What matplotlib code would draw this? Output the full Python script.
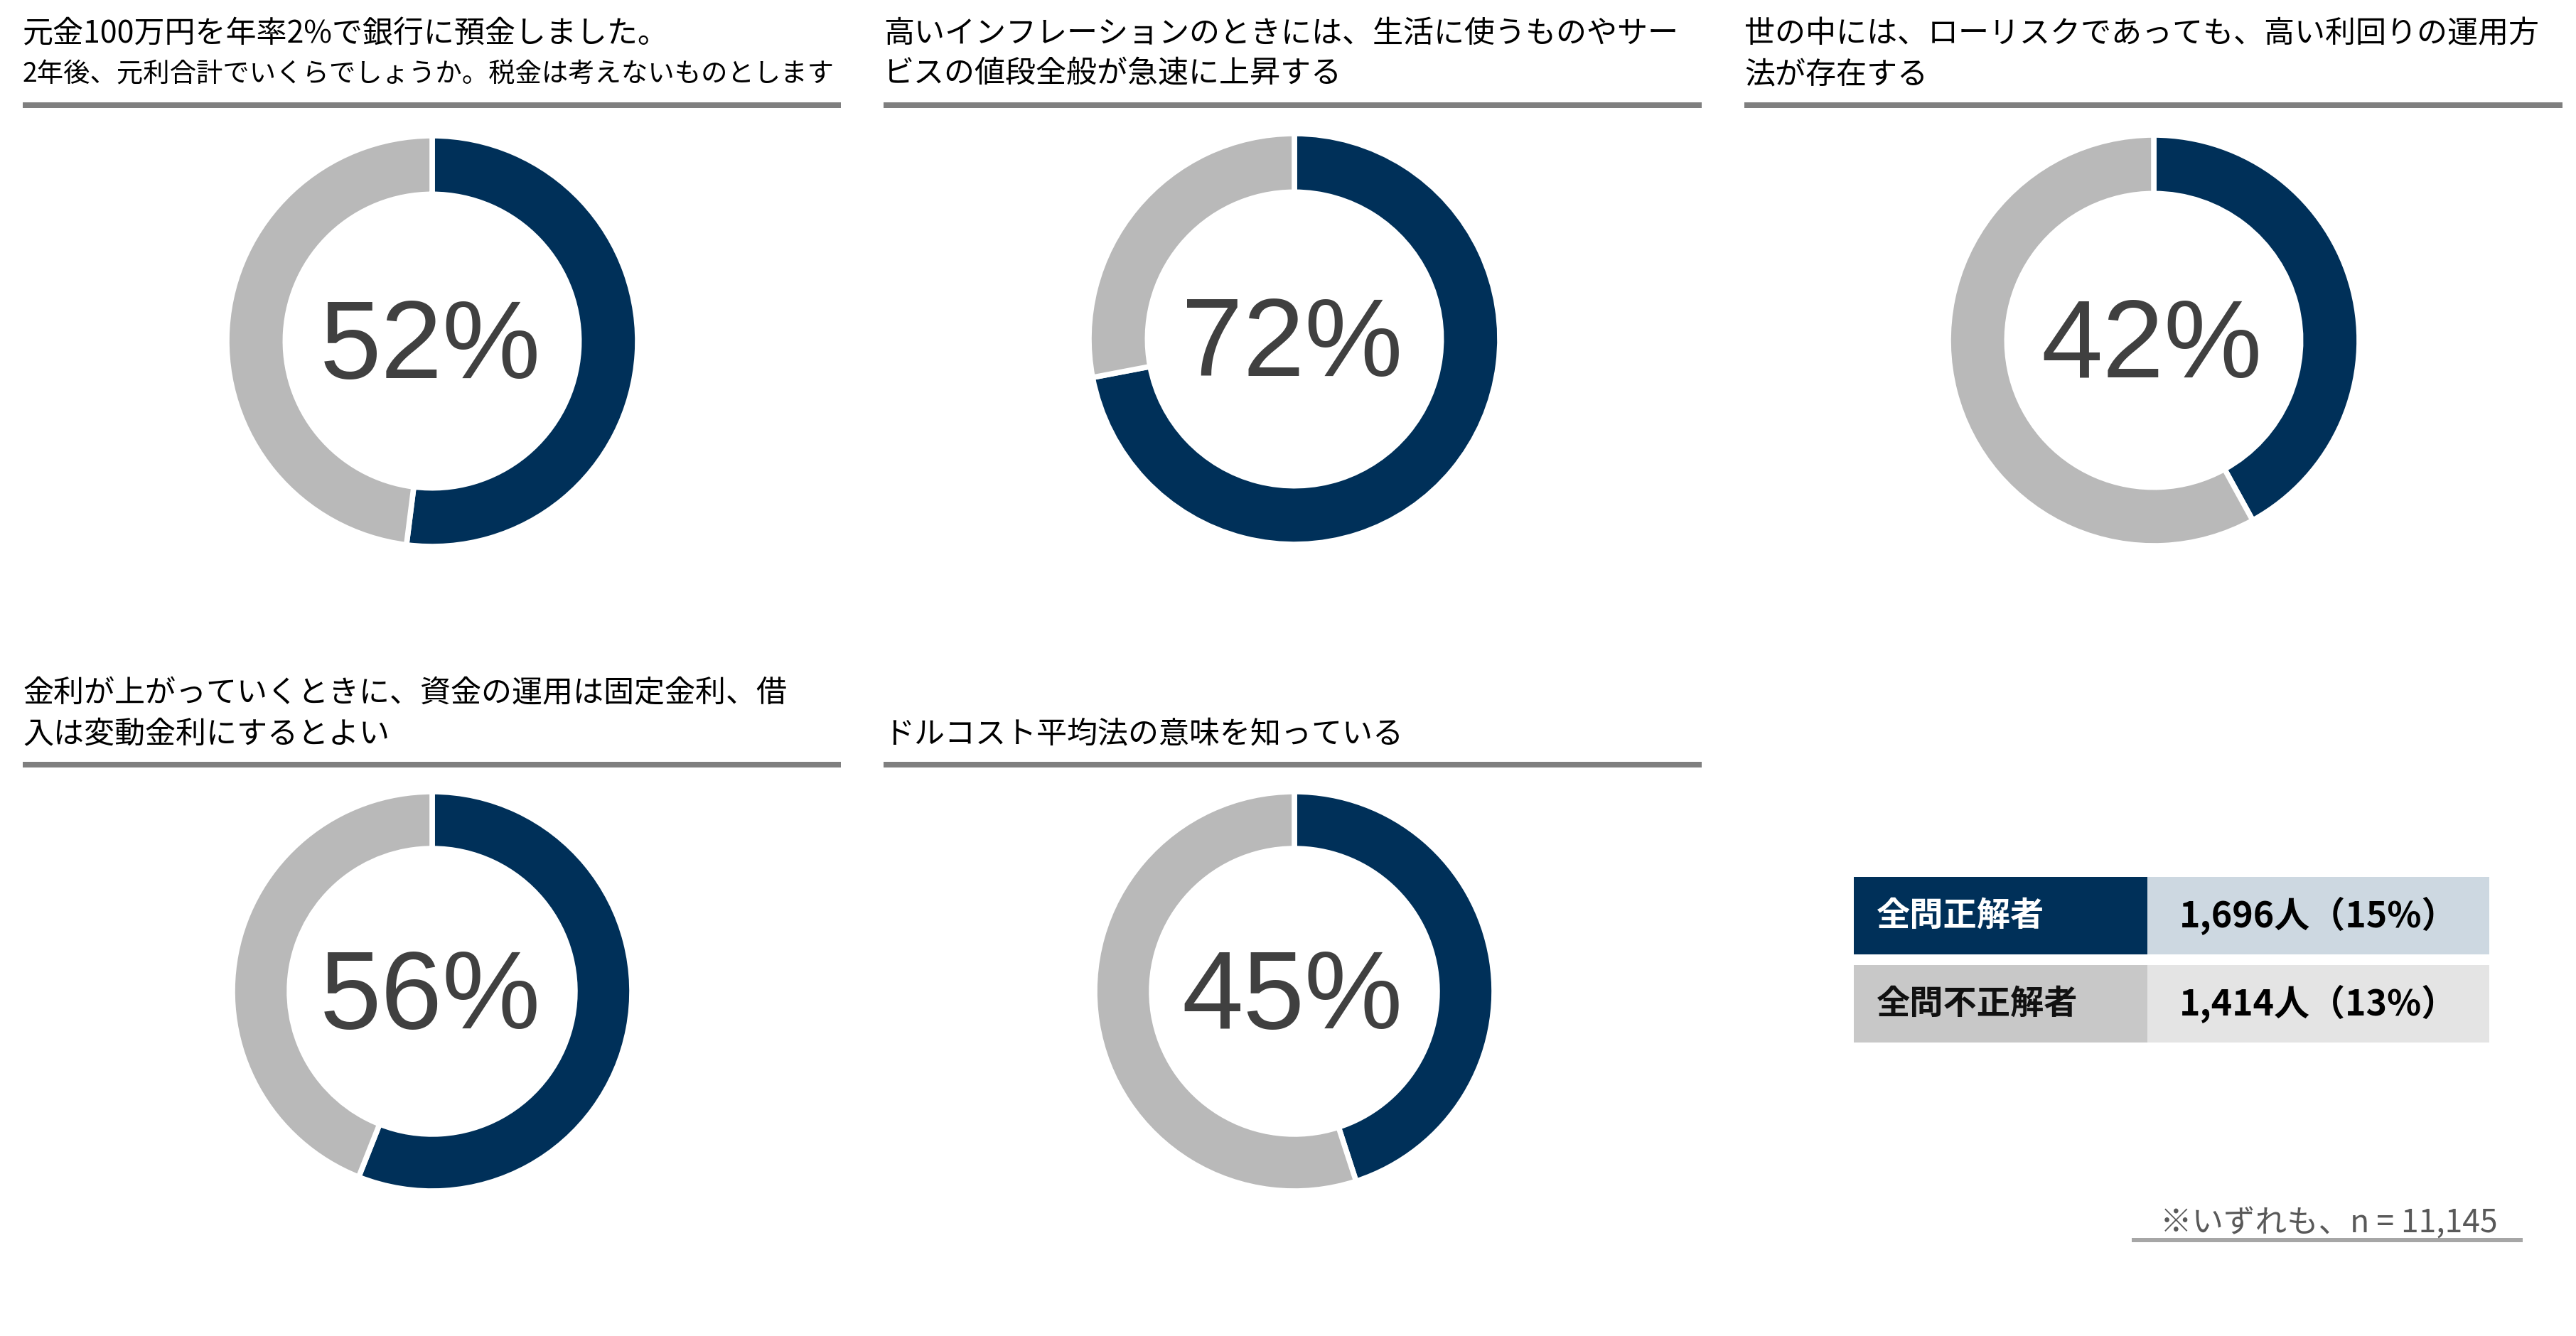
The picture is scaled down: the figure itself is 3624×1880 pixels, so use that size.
import matplotlib
matplotlib.use("Agg")
import matplotlib.pyplot as plt
from matplotlib.patches import Rectangle

"""
Data
"""
titles = [
    "元金100万円を年率2%で銀行に預金しました。\n2年後、元利合計でいくらでしょうか。税金は考えないものとします",
    "高いインフレーションのときには、生活に使うものやサー\nビスの値段全般が急速に上昇する",
    "世の中には、ローリスクであっても、高い利回りの運用方\n法が存在する",
    "金利が上がっていくときに、資金の運用は固定金利、借\n入は変動金利にするとよい",
    "ドルコスト平均法の意味を知っている",
]
correct = [52, 72, 42, 56, 45]

table_labels = ["全問正解者", "全問不正解者"]
table_people = [1696, 1414]
table_pct = [15, 13]
note = "※いずれも、n = 11,145"

"""
Style / layout (pixels, origin top-left)
"""
W, H = 3624, 1880
navy = "#003059"
ring_gray = "#B9B9B9"
rule_gray = "#7F7F7F"
jp = ["Noto Sans CJK JP", "DejaVu Sans"]

panel_left = [32, 1243, 2454, 32, 1243]
panel_w = 1151
rule_y = [148, 148, 148, 1076, 1076]
donut_c = [(608, 480), (1821, 477), (3030, 479), (608, 1395), (1821, 1395)]
donut_r = [289, 289, 289, 281, 281]
title_fs = 31
pct_fs = 112

fig = plt.figure(figsize=(W / 100, H / 100), dpi=100)
bg = fig.add_axes([0, 0, 1, 1])
bg.set_xlim(0, W)
bg.set_ylim(H, 0)
bg.axis("off")

renderer = fig.canvas.get_renderer()

for i, t in enumerate(titles):
    x0 = panel_left[i]
    ry = rule_y[i]
    bg.plot([x0, x0 + panel_w], [ry, ry], color=rule_gray, lw=8 * 0.72,
            solid_capstyle="butt")
    lines = t.split("\n")
    n = len(lines)
    for k, line in enumerate(lines):
        y = ry - 43 - 57 * (n - 1 - k)
        tt = bg.text(x0, y, line, fontsize=title_fs, family=jp,
                     color="black", ha="left", va="center")
        # shrink a line that would run past its rule
        w = tt.get_window_extent(renderer).width
        if w > panel_w:
            tt.set_fontsize(title_fs * panel_w / w * 0.99)

    # donut
    cx, cy = donut_c[i]
    R = donut_r[i]
    ax = fig.add_axes([(cx - R) / W, 1 - (cy + R) / H, 2 * R / W, 2 * R / H])
    ax.pie([correct[i], 100 - correct[i]], colors=[navy, ring_gray],
           startangle=90, counterclock=False, radius=1,
           wedgeprops=dict(width=0.285, edgecolor="white", linewidth=5.5))
    ax.set_xlim(-1, 1)
    ax.set_ylim(-1, 1)
    ax.set_aspect("equal")
    ax.axis("off")

    cap = pct_fs * 100 / 72 * 0.716
    bg.text(cx - 3, cy + cap / 2 - 4, "{}%".format(correct[i]), fontsize=pct_fs,
            family="Liberation Sans", color="#404040", ha="center",
            va="baseline")

# summary table
tx0, tx1, tx2 = 2608, 3021, 3502
row_y = [(1234, 1343), (1358, 1467)]
left_col = [navy, "#C8C8C8"]
right_col = ["#CDD8E1", "#E4E4E4"]
label_col = ["white", "#111111"]
for j in range(2):
    y0, y1 = row_y[j]
    bg.add_patch(Rectangle((tx0, y0), tx1 - tx0, y1 - y0, facecolor=left_col[j],
                           edgecolor="none"))
    bg.add_patch(Rectangle((tx1, y0), tx2 - tx1, y1 - y0, facecolor=right_col[j],
                           edgecolor="none"))
    ym = (y0 + y1) / 2
    bg.text(tx0 + 31, ym, table_labels[j], fontsize=34, weight="bold", family=jp,
            color=label_col[j], ha="left", va="center")
    bg.text((tx1 + tx2) / 2, ym,
            "{:,}人（{}%）".format(table_people[j], table_pct[j]),
            fontsize=36, weight="bold", family=jp, color="black",
            ha="center", va="center")

# footnote
bg.text(3276, 1722, note, fontsize=32, family=jp, color="#595959",
        ha="center", va="center")
bg.plot([2999, 3549], [1745, 1745], color="#A6A6A6", lw=6 * 0.72,
        solid_capstyle="butt")

fig.savefig("out.png", dpi=100, facecolor="white")
